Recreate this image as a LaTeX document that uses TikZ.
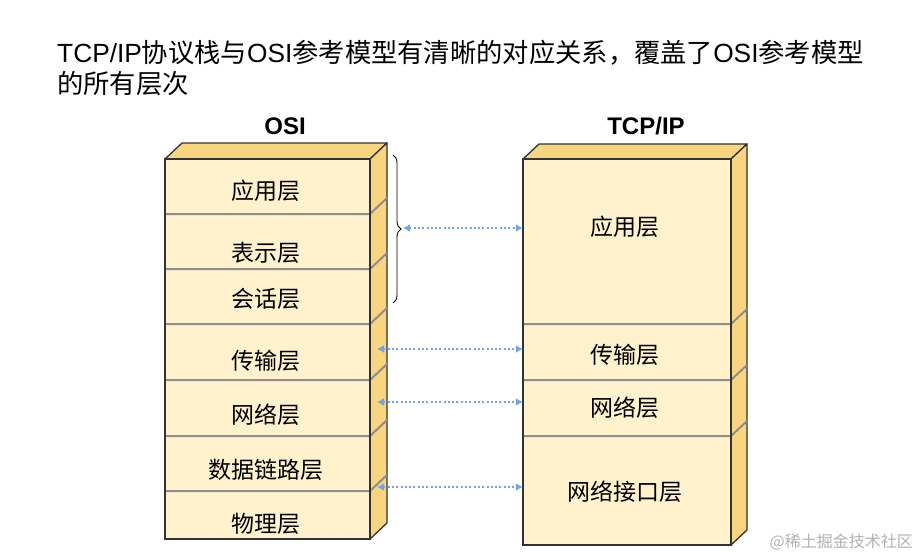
\documentclass[tikz,border=0pt]{standalone}
\usepackage{fontspec}
\setmainfont{Liberation Sans}
\newfontfamily\cjk{Noto Sans CJK SC}
\usetikzlibrary{decorations.pathreplacing,arrows.meta}
\definecolor{frontc}{HTML}{FFF2CC}
\definecolor{goldc}{HTML}{F8D57E}
\definecolor{edgec}{HTML}{333333}
\definecolor{dividerc}{HTML}{8E8E8E}
\definecolor{arrowc}{HTML}{6FA3EE}
\begin{document}
\begin{tikzpicture}[x=1pt,y=-1pt,
  layerbox/.style={fill=frontc, inner sep=0pt, minimum width=#1},
  lbl/.style={font=\fontsize{23}{25}\selectfont\cjk, inner sep=0pt},
  facegold/.style={fill=goldc, draw=edgec, line width=1.3pt, line join=round},
  outline/.style={draw=edgec, line width=1.5pt},
  divline/.style={draw=dividerc, line width=2pt},
  conn/.style={draw=arrowc, line width=2.3pt, dash pattern=on 2pt off 2.3pt,
    {Latex[length=7pt,width=8pt]}-{Latex[length=7pt,width=8pt]}},
  headtxt/.style={font=\fontsize{24}{28}\selectfont\bfseries, inner sep=0pt, anchor=base}
]
\useasboundingbox (0,0) rectangle (921,557);
\fill[white] (0,0) rectangle (921,557);

% title
\node[anchor=base west, inner sep=0pt, font=\fontsize{26.3}{31}\selectfont] (title1) at (57,62)
  {TCP/IP{\cjk 协议栈与}OSI{\cjk 参考模型有清晰的对应关系，覆盖了}OSI{\cjk 参考模型}};
\node[anchor=base west, inner sep=0pt, font=\fontsize{26.3}{31}\selectfont\cjk] (title2) at (57,93) {的所有层次};

\node[headtxt] (osih) at (285,134) {OSI};
\node[headtxt] (tcph) at (646,134) {TCP/IP};

% ---------- OSI stack ----------
\node[layerbox=205pt, minimum height=55pt] (o1) at (267.5,186.5) {};
\node[layerbox=205pt, minimum height=55pt] (o2) at (267.5,241.5) {};
\node[layerbox=205pt, minimum height=55pt] (o3) at (267.5,296.5) {};
\node[layerbox=205pt, minimum height=56pt] (o4) at (267.5,352) {};
\node[layerbox=205pt, minimum height=56pt] (o5) at (267.5,408) {};
\node[layerbox=205pt, minimum height=55pt] (o6) at (267.5,463.5) {};
\node[layerbox=205pt, minimum height=48pt] (o7) at (267.5,515) {};
\filldraw[facegold] (165,159) -- (182,143) -- (387,143) -- (370,159) -- cycle;
\filldraw[facegold] (370,159) -- (387,143) -- (387,523) -- (370,539) -- cycle;
\foreach \y in {214,269,324,380,436,491}{
  \draw[divline] (165,\y) -- (370,\y) -- (387,\y-16);
}
\draw[outline] (o1.north west) rectangle (o7.south east);
\node[lbl] (o1t) at (266,191) {应用层};
\node[lbl] (o2t) at (266,253) {表示层};
\node[lbl] (o3t) at (266,299) {会话层};
\node[lbl] (o4t) at (266,361) {传输层};
\node[lbl] (o5t) at (266,415) {网络层};
\node[lbl] (o6t) at (266,470) {数据链路层};
\node[lbl] (o7t) at (266,524) {物理层};

% ---------- TCP/IP stack ----------
\node[layerbox=208pt, minimum height=165pt] (t1) at (627,241.5) {};
\node[layerbox=208pt, minimum height=56pt] (t2) at (627,352) {};
\node[layerbox=208pt, minimum height=56pt] (t3) at (627,408) {};
\node[layerbox=208pt, minimum height=109pt] (t4) at (627,490.5) {};
\filldraw[facegold] (523,159) -- (539,144) -- (747,144) -- (731,159) -- cycle;
\filldraw[facegold] (731,159) -- (747,144) -- (747,530) -- (731,545) -- cycle;
\foreach \y in {324,380,436}{
  \draw[divline] (523,\y) -- (731,\y) -- (747,\y-15);
}
\draw[outline] (t1.north west) rectangle (t4.south east);
\node[lbl] (t1t) at (625,227) {应用层};
\node[lbl] (t2t) at (625,355) {传输层};
\node[lbl] (t3t) at (625,408) {网络层};
\node[lbl] (t4t) at (625,492) {网络接口层};

% ---------- brace and connectors ----------
\coordinate (bracetop) at (393,155);
\coordinate (bracebot) at (393,303);
\draw[line width=0.9pt, decorate, decoration={brace, amplitude=8pt}] (bracetop) -- (bracebot);
\coordinate (a1) at (403,228);
\coordinate (a2) at (377,349);
\coordinate (a3) at (377,402);
\coordinate (a4) at (377,487);
\draw[conn] (a1) -- (a1 -| t1.west);
\draw[conn] (a2) -- (a2 -| t2.west);
\draw[conn] (a3) -- (a3 -| t3.west);
\draw[conn] (a4) -- (a4 -| t4.west);

% watermark
\node[anchor=base east, inner sep=0pt, text=black!30, font=\fontsize{16}{18}\selectfont\cjk] (wm) at (913,547) {@稀土掘金技术社区};
\end{tikzpicture}
\end{document}
